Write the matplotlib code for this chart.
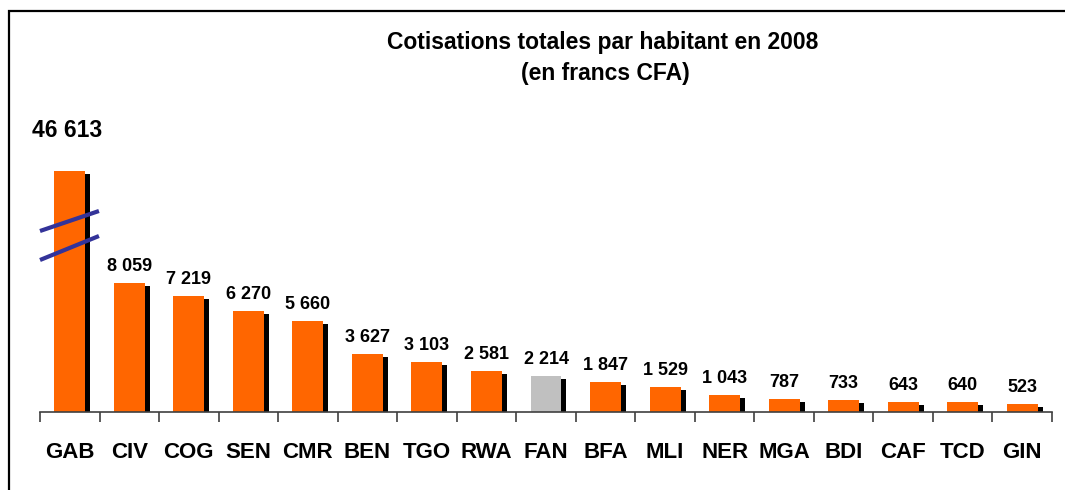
import matplotlib.pyplot as plt
from matplotlib.patches import Rectangle
from matplotlib.lines import Line2D

plt.rcParams['font.family'] = ['Liberation Sans', 'DejaVu Sans']

pays = ['GAB', 'CIV', 'COG', 'SEN', 'CMR', 'BEN', 'TGO', 'RWA', 'FAN',
        'BFA', 'MLI', 'NER', 'MGA', 'BDI', 'CAF', 'TCD', 'GIN']
cotisations = [46613, 8059, 7219, 6270, 5660, 3627, 3103, 2581, 2214,
               1847, 1529, 1043, 787, 733, 643, 640, 523]
labels = ['46 613', '8 059', '7 219', '6 270', '5 660', '3 627', '3 103', '2 581',
          '2 214', '1 847', '1 529', '1 043', '787', '733', '643', '640', '523']
# GAB bar is cut (axis break), drawn shorter than its value
gab_affiche = 15020

hauteurs = [gab_affiche] + cotisations[1:]
couleurs = ['#FF6600'] * len(pays)
couleurs[pays.index('FAN')] = '#C0C0C0'

fig = plt.figure(figsize=(10.65, 4.9), dpi=100)
W, H = 1065, 490
# axes in pixel positions: left 40, right 1052, baseline 412, top 100
ax = fig.add_axes([40 / W, 1 - 412 / H, (1052 - 40) / W, (412 - 100) / H])

x = list(range(len(pays)))
largeur = 0.52
dx = 5 / 59.5      # shadow shift to the right
dy = 3 * 62.3      # shadow shift down

ax.bar([i + dx for i in x], [h - dy for h in hauteurs], width=largeur,
       color='black', zorder=1)
ax.bar(x, hauteurs, width=largeur, color=couleurs, zorder=2)

for i, (h, lab) in enumerate(zip(hauteurs, labels)):
    if i == 0:
        ax.annotate(lab, (i - 0.04, h), xytext=(0, 34), textcoords='offset pixels',
                    ha='center', va='baseline', fontsize=16.5, fontweight='bold')
    else:
        ax.annotate(lab, (i, h), xytext=(0, 12), textcoords='offset pixels',
                    ha='center', va='baseline', fontsize=13, fontweight='bold')

# axis break marks on GAB bar
for y0, y1 in [(231, 211), (260, 236)]:
    ax.add_line(Line2D([-0.5, 0.5 - 0.01], [(412 - y0) * 62.3, (412 - y1) * 62.3],
                       color='#333399', linewidth=3, zorder=3, clip_on=False,
                       solid_capstyle='butt'))

ax.set_xlim(-0.5, len(pays) - 0.5)
ax.set_ylim(0, (412 - 100) * 62.3)
for s in ['top', 'right', 'left']:
    ax.spines[s].set_visible(False)
ax.spines['bottom'].set_color('#404040')
ax.spines['bottom'].set_linewidth(1.2)
ax.set_yticks([])
ax.set_xticks([i - 0.5 for i in range(len(pays) + 1)])
ax.set_xticklabels([])
ax.tick_params(axis='x', length=7, width=1.2, color='#404040', direction='out')
for i, p in enumerate(pays):
    ax.text(i, -0.13, p, transform=ax.get_xaxis_transform(), ha='center',
            va='center', fontsize=16, fontweight='bold')

fig.text(603 / W, 1 - 49 / H, 'Cotisations totales par habitant en 2008',
         ha='center', va='baseline', fontsize=16.5, fontweight='bold')
fig.text(605 / W, 1 - 80 / H, '(en francs CFA)',
         ha='center', va='baseline', fontsize=16.5, fontweight='bold')

# outer frame (cut on right and bottom)
fig.patches.append(Rectangle((9 / W, -0.1), 1.2, 1.1 - 11 / H,
                             transform=fig.transFigure, fill=False,
                             edgecolor='black', linewidth=1.6))

fig.savefig('out.png', dpi=100)
